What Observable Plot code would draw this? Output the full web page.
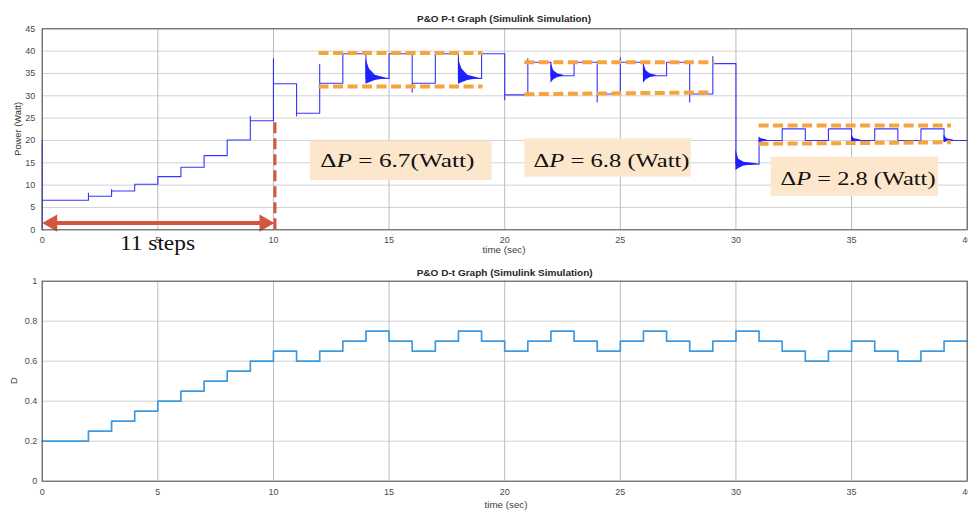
<!DOCTYPE html>
<html><head><meta charset="utf-8">
<script src="https://cdn.jsdelivr.net/npm/d3@7"></script>
<script src="https://cdn.jsdelivr.net/npm/@observablehq/plot@0.6"></script>
<style>
html,body{margin:0;padding:0;background:#fff;overflow:hidden}
#root{position:relative;width:968px;height:511px;overflow:hidden;background:#fff}
</style></head><body><div id="root"></div>
<script>
// ---------- data ----------
const stepTimes = [0,2,3,4,5,6,7,8,9,10,11,12,13,14,15,16,17,18,19,20,21,22,23,24,25,26,27,28,29,30,31,32,33,34,35,36,37,38,39];
const tEnd = 40;
const powerLevels = [6.6,7.5,8.7,10.2,11.9,14.0,16.6,20.1,24.4,32.7,26.1,32.8,39.4,33.9,39.4,32.8,39.4,33.9,39.4,30.2,37.5,34.5,37.5,30.4,37.5,34.5,37.5,30.4,37.2,14.7,20.0,22.6,20.0,22.6,20.0,22.6,20.0,22.6,20.0];
const powerSpikes = [[0,20],[2,8.2],[3,9.0],[9,25.4],[10,38.3],[11,25.5],[12,37.0],[16,30.8],[20,29.1],[21,38.3],[24,28.6],[25,38.5],[28,28.6],[29,38.8]];
// damped-oscillation envelopes after some steps: [id, t, high, low]
const transients = [
  [14,14.0,38.3,32.6],[14,14.15,36.0,32.9],[14,14.4,34.6,33.4],[14,14.85,34.0,33.8],
  [18,18.0,38.3,32.6],[18,18.15,36.0,32.9],[18,18.4,34.6,33.4],[18,18.85,34.0,33.8],
  [22,22.0,37.4,32.8],[22,22.12,35.6,33.6],[22,22.3,34.9,34.1],[22,22.55,34.6,34.4],
  [26,26.0,37.4,32.8],[26,26.12,35.6,33.6],[26,26.3,34.9,34.1],[26,26.55,34.6,34.4],
  [30,30.0,17.8,13.2],[30,30.12,15.8,13.7],[30,30.35,15.1,14.3],[30,30.9,14.8,14.6],
  [31,31.0,20.8,19.3],[31,31.1,20.4,19.6],[31,31.35,20.1,19.9],
  [35,35.0,21.2,19.5],[35,35.12,20.4,19.7],[35,35.4,20.1,19.9],
  [39,39.0,21.2,19.5],[39,39.12,20.4,19.7],[39,39.4,20.1,19.9]
];
const dutyLevels = [0.2,0.25,0.3,0.35,0.4,0.45,0.5,0.55,0.6,0.65,0.6,0.65,0.7,0.75,0.7,0.65,0.7,0.75,0.7,0.65,0.7,0.75,0.7,0.65,0.7,0.75,0.7,0.65,0.7,0.75,0.7,0.65,0.6,0.65,0.7,0.65,0.6,0.65,0.7];
const xTicks = [0,5,10,15,20,25,30,35,40];
const pTicks = [0,5,10,15,20,25,30,35,40,45];
const dTicks = [0,0.2,0.4,0.6,0.8,1];
// annotation bands (orange dashed): [t1, P1, t2, P2]
const bandLines = [[11.95,39.6,19.04,39.6],[11.95,32.1,19.04,32.1],[20.85,37.5,29.07,37.5],[20.85,30.35,28.9,30.75],[30.98,23.35,39.3,23.35],[30.98,19.25,39.3,19.6]];
// annotation boxes: [t1, t2, P1, P2, label, textT, textP, textWidth]
const boxes = [
  [11.6,19.45,11.0,19.85,"6.7(Watt)",12.05,13.95,154],
  [20.87,28.07,11.8,20.35,"6.8 (Watt)",21.27,14.0,156],
  [31.52,38.76,7.5,16.25,"2.8 (Watt)",31.95,9.9,155]
];
const stepsArrow = {t1:0, t2:10, P:1.5, dashTop:24.6, label:"11 steps"};
const titles = ["P&O P-t Graph (Simulink Simulation)","P&O D-t Graph (Simulink Simulation)"];

// ---------- derived ----------
const spikeMap = new Map(powerSpikes);
const powerPts = [{t:0,P:0}];
let prevLevel = 0;
stepTimes.forEach((t,i) => {
  const lvl = powerLevels[i];
  powerPts.push({t, P: prevLevel});
  if (spikeMap.has(t)) powerPts.push({t, P: spikeMap.get(t)});
  powerPts.push({t, P: lvl});
  prevLevel = lvl;
});
powerPts.push({t: tEnd, P: prevLevel});
const transData = transients.map(([id,t,hi,lo]) => ({id,t,hi,lo}));
const dutyPts = stepTimes.map((t,i)=>({t, D: dutyLevels[i]})).concat([{t: tEnd, D: dutyLevels[dutyLevels.length-1]}]);
const bandData = bandLines.map(([x1,y1,x2,y2])=>({x1,y1,x2,y2}));
const boxData = boxes.map(([x1,x2,y1,y2])=>({x1,x2,y1,y2}));

const RED = "#d6553d", ORANGE = "#f6a43e", BLUE = "#1f1fff", DBLUE = "#3d9ae0";
const axisStyle = {fontFamily:"'Liberation Sans', Arial, sans-serif", fontSize:"9px", color:"#4a4a4a", background:"transparent", overflow:"visible"};

const topPlot = Plot.plot({
  width: 968, height: 256,
  marginTop: 28.3, marginBottom: 26.7, marginLeft: 41.7, marginRight: 1.3,
  style: axisStyle,
  x: {domain:[0,40], ticks: xTicks, tickSize: 0, tickPadding: 7, label: null, tickFormat: d=>String(d)},
  y: {domain:[0,45], ticks: pTicks, tickSize: 0, tickPadding: 7, label: null, tickFormat: d=>String(d)},
  marks: [
    Plot.ruleY(pTicks, {stroke:"#d2d2d2", strokeWidth:1}),
    Plot.ruleX(xTicks, {stroke:"#bcbcbc", strokeWidth:1}),
    Plot.rect(boxData, {x1:"x1", x2:"x2", y1:"y1", y2:"y2", fill:"#fce6cc"}),
    Plot.ruleX([stepsArrow.t2], {y1:0, y2:stepsArrow.dashTop, stroke:RED, strokeWidth:3, strokeDasharray:"11,5", dx:1.5}),
    Plot.areaY(transData, {x:"t", y1:"lo", y2:"hi", z:"id", fill:BLUE}),
    Plot.line(powerPts, {x:"t", y:"P", stroke:BLUE, strokeWidth:1.1, strokeOpacity:0.9}),
    Plot.link(bandData, {x1:"x1", y1:"y1", x2:"x2", y2:"y2", stroke:ORANGE, strokeWidth:4, strokeDasharray:"10,4.5"}),
    Plot.ruleY([stepsArrow.P], {x1:stepsArrow.t1+0.3, x2:stepsArrow.t2-0.3, stroke:RED, strokeWidth:4}),
    Plot.dot([stepsArrow.t1], {x:d=>d, y:stepsArrow.P, symbol:"triangle", r:6.4, rotate:-90, dx:10, fill:RED, stroke:"none"}),
    Plot.dot([stepsArrow.t2], {x:d=>d, y:stepsArrow.P, symbol:"triangle", r:6.4, rotate:90, dx:-9, fill:RED, stroke:"none"}),
    Plot.frame({stroke:"#505050", strokeWidth:1})
  ]
});

const bottomPlot = Plot.plot({
  width: 968, height: 255,
  marginTop: 24.7, marginBottom: 30.3, marginLeft: 41.7, marginRight: 1.3,
  style: axisStyle,
  x: {domain:[0,40], ticks: xTicks, tickSize: 0, tickPadding: 7.5, label: null, tickFormat: d=>String(d)},
  y: {domain:[0,1], ticks: dTicks, tickSize: 0, tickPadding: 5, label: null, tickFormat: d=>String(d)},
  marks: [
    Plot.ruleY(dTicks, {stroke:"#d2d2d2", strokeWidth:1}),
    Plot.ruleX(xTicks, {stroke:"#bcbcbc", strokeWidth:1}),
    Plot.line(dutyPts, {x:"t", y:"D", curve:"step-after", stroke:DBLUE, strokeWidth:1.7}),
    Plot.frame({stroke:"#505050", strokeWidth:1})
  ]
});

const root = document.getElementById("root");
[[topPlot,0],[bottomPlot,256]].forEach(([svg,y]) => {
  svg.style.position = "absolute"; svg.style.left = "0px"; svg.style.top = y+"px";
  svg.style.maxWidth = "none";
  root.appendChild(svg);
});

function scaleFn(plot, name) {
  const s = plot.scale(name);
  if (s && typeof s.apply === "function") return v => s.apply(v);
  return d3.scaleLinear(s.domain, s.range);
}
const tx = scaleFn(topPlot,"x"), ty = scaleFn(topPlot,"y");

// overlay for titles, axis labels and annotation text
const ov = d3.select(root).append("svg")
  .attr("width",968).attr("height",511)
  .style("position","absolute").style("left","0px").style("top","0px")
  .style("overflow","visible").style("pointer-events","none");
const sans = "'Liberation Sans', Arial, sans-serif";
const serif = "'Liberation Serif', 'Times New Roman', serif";

ov.append("text").attr("x",504).attr("y",21.5).attr("text-anchor","middle")
  .attr("font-family",sans).attr("font-weight","bold").attr("font-size",8.6).attr("fill","#262626")
  .attr("textLength",174).attr("lengthAdjust","spacingAndGlyphs").text(titles[0]);
ov.append("text").attr("x",504.7).attr("y",276).attr("text-anchor","middle")
  .attr("font-family",sans).attr("font-weight","bold").attr("font-size",8.6).attr("fill","#262626")
  .attr("textLength",176).attr("lengthAdjust","spacingAndGlyphs").text(titles[1]);
ov.append("text").attr("x",504).attr("y",252.5).attr("text-anchor","middle")
  .attr("font-family",sans).attr("font-size",8.6).attr("fill","#404040")
  .attr("textLength",43).attr("lengthAdjust","spacingAndGlyphs").text("time (sec)");
ov.append("text").attr("x",506).attr("y",508).attr("text-anchor","middle")
  .attr("font-family",sans).attr("font-size",8.6).attr("fill","#404040")
  .attr("textLength",43).attr("lengthAdjust","spacingAndGlyphs").text("time (sec)");
ov.append("text").attr("transform","translate(21,128.8) rotate(-90)").attr("text-anchor","middle")
  .attr("font-family",sans).attr("font-size",9.3).attr("fill","#333").text("Power (Watt)");
ov.append("text").attr("transform","translate(17,380.7) rotate(-90)").attr("text-anchor","middle")
  .attr("font-family",sans).attr("font-size",9.3).attr("fill","#333").text("D");

// 11 steps
ov.append("text").attr("x", tx(0)+78.3).attr("y", 250)
  .attr("font-family",serif).attr("font-size",21).attr("fill","#111")
  .attr("textLength",75).attr("lengthAdjust","spacingAndGlyphs").text(stepsArrow.label);

// Delta P labels
boxes.forEach(b => {
  const label = b[4], tt = b[5], tp = b[6], w = b[7];
  const t = ov.append("text").attr("x", tx(tt)).attr("y", ty(tp))
    .attr("font-family",serif).attr("font-size",18.5).attr("fill","#111")
    .attr("textLength",w).attr("lengthAdjust","spacingAndGlyphs");
  t.append("tspan").text("\u0394");
  t.append("tspan").attr("font-style","italic").text("P");
  t.append("tspan").text(" = " + label);
});
</script></body></html>
